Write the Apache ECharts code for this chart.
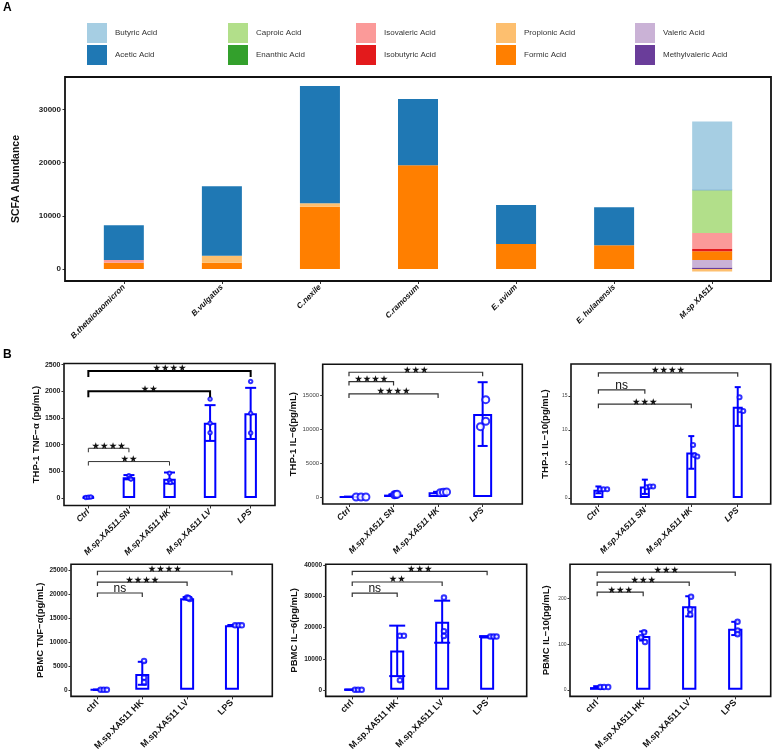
<!DOCTYPE html>
<html>
<head>
<meta charset="utf-8">
<title>SCFA abundance and cytokines</title>
<script src="https://cdn.jsdelivr.net/npm/echarts@6/dist/echarts.min.js"></script>
<style>
  html, body { margin: 0; padding: 0; background: #fff; }
  #chart { width: 772px; height: 753px; }
</style>
</head>
<body>
<div id="chart"></div>
<script>
// ---------- panel A : SCFA abundance per strain ----------
const strains = ['B.thetaiotaomicron', 'B.vulgatus', 'C.nexile', 'C.ramosum', 'E. avium', 'E. hulanensis', 'M.sp XA511'];
const methylvaleric = [0, 0, 0, 0, 0, 0, 300];
const valeric       = [0, 0, 0, 0, 0, 0, 1390];
const formic        = [1180, 1180, 11710, 19490, 4700, 4450, 1630];
const propionic     = [0, 1320, 640, 0, 0, 0, -450];
const isobutyric    = [0, 0, 0, 0, 0, 0, 440];
const isovaleric    = [510, 0, 0, 0, 0, 0, 3000];
const enanthic      = [0, 0, 0, 0, 0, 0, 0];
const caproic       = [0, 0, 0, 0, 0, 0, 8020];
const acetic        = [6520, 13050, 22050, 12460, 7330, 7150, 150];
const butyric       = [0, 0, 0, 0, 0, 0, 12780];
const scfaTicks = [0, 10000, 20000, 30000];

// ---------- panel B : cytokines (mean, error range, replicates, tests) ----------
const catsB1 = ['Ctrl', 'M.sp.XA511.SN', 'M.sp.XA511 HK', 'M.sp.XA511 LV', 'LPS'];
const meanB1 = [15, 390, 360, 1410, 1590];
const errB1  = [[5, 25], [350, 430], [270, 478], [1070, 1740], [1106, 2064]];
const ptsB1  = [[10, 15, 20], [416, 373, 354], [466, 328, 291], [1853, 1400, 1224], [2183, 1586, 1218]];
const sigB1  = [[0, 4, 2381, '★★★★'], [0, 3, 2002, '★★'], [0, 1, 932, '★★★★'], [0, 2, 683, '★★']];
const ticksB1 = [0, 500, 1000, 1500, 2000, 2500];

const catsB2 = ['Ctrl', 'M.sp.XA511 SN', 'M.sp.XA511 HK', 'LPS'];
const meanB2 = [30, 350, 690, 12200];
const errB2  = [[0, 60], [300, 400], [620, 760], [7500, 16870]];
const ptsB2  = [[0, 0, 0], [330, 360, 400], [620, 700, 750], [14300, 11130, 10340]];
const sigB2  = [[0, 3, 18330, '★★★'], [0, 1, 16960, '★★★★'], [0, 2, 15150, '★★★★']];
const ticksB2 = [0, 5000, 10000, 15000];

const catsB3 = ['Ctrl', 'M.sp.XA511 SN', 'M.sp.XA511 HK', 'LPS'];
const meanB3 = [1.2, 1.7, 6.7, 13.4];
const errB3  = [[0.7, 1.7], [0.6, 2.7], [4.3, 9.1], [10.6, 16.3]];
const ptsB3  = [[1.3, 1.3, 1.3], [1.6, 1.7, 1.7], [7.8, 6.3, 6.1], [14.8, 12.9, 12.8]];
const sigB3  = [[0, 3, 18.4, '★★★★'], [0, 1, 15.9, 'ns'], [0, 2, 13.8, '★★★']];
const ticksB3 = [0, 5, 10, 15];

const catsB4 = ['ctrl', 'M.sp.XA511 HK', 'M.sp.XA511 LV', 'LPS'];
const meanB4 = [20, 3320, 19140, 13480];
const errB4  = [[0, 40], [1050, 5860], [18900, 19400], [13400, 13560]];
const ptsB4  = [[0, 0, 0], [6050, 2540, 1600], [19300, 19000, 19200], [13480, 13480, 13480]];
const sigB4  = [[0, 3, 24800, '★★★★'], [0, 2, 22530, '★★★★'], [0, 1, 20250, 'ns']];
const ticksB4 = [0, 5000, 10000, 15000, 20000, 25000];

const catsB5 = ['ctrl', 'M.sp.XA511 HK', 'M.sp.XA511 LV', 'LPS'];
const meanB5 = [50, 12630, 21950, 17140];
const errB5  = [[0, 100], [4420, 20660], [15160, 28690], [17000, 17300]];
const ptsB5  = [[0, 0, 0], [17400, 17400, 3100], [29700, 18860, 17350], [17140, 17140, 17140]];
const sigB5  = [[0, 3, 38150, '★★★'], [0, 2, 34700, '★★'], [0, 1, 31150, 'ns']];
const ticksB5 = [0, 10000, 20000, 30000, 40000];

const catsB6 = ['ctrl', 'M.sp.XA511 HK', 'M.sp.XA511 LV', 'LPS'];
const meanB6 = [6, 118, 183, 134];
const errB6  = [[4, 8], [108, 128], [161, 205], [120, 149]];
const ptsB6  = [[6, 6, 6], [126, 115, 105], [204, 176, 165], [149, 130, 122]];
const sigB6  = [[0, 3, 258, '★★★'], [0, 2, 236, '★★★'], [0, 1, 214, '★★★']];
const ticksB6 = [0, 100, 200];

// horizontal jitter of the replicate dots (fraction of a category)
const jitB1 = [[-0.06, 0, 0.06], [0, 0.03, 0.05], [0, 0, 0.02], [0, 0, 0], [0, 0, 0]];
const jitB2 = [[0.16, 0.27, 0.38], [0.02, 0.05, 0.08], [0.05, 0.12, 0.19], [0.07, 0.07, -0.05]];
const jitB3 = [[0.03, 0.11, 0.19], [0.04, 0.11, 0.18], [0.04, 0.07, 0.13], [0.04, 0.05, 0.12]];
const jitB4 = [[0.07, 0.14, 0.21], [0.04, 0.04, 0.04], [0, 0.06, 0.03], [0.07, 0.15, 0.22]];
const jitB5 = [[0.06, 0.13, 0.21], [0.06, 0.15, 0.06], [0.04, 0.04, 0.04], [0.07, 0.14, 0.21]];
const jitB6 = [[0.07, 0.15, 0.24], [0.02, -0.05, 0.04], [0.04, 0.02, 0.02], [0.05, 0.05, 0.05]];

const FONT = '"Liberation Sans", Arial, sans-serif';
const BLUE = '#0000ff';
const acidColors = {
  'Butyric Acid': '#a6cee3', 'Acetic Acid': '#1f78b4', 'Caproic Acid': '#b2df8a', 'Enanthic Acid': '#33a02c',
  'Isovaleric Acid': '#fb9a99', 'Isobutyric Acid': '#e31a1c', 'Propionic Acid': '#fdbf6f', 'Formic Acid': '#ff7f00',
  'Valeric Acid': '#cab2d6', 'Methylvaleric Acid': '#6a3d9a'
};
// stacking order, bottom first
const acidStack = [
  ['Methylvaleric Acid', methylvaleric], ['Valeric Acid', valeric], ['Formic Acid', formic],
  ['Propionic Acid', propionic], ['Isobutyric Acid', isobutyric], ['Isovaleric Acid', isovaleric],
  ['Enanthic Acid', enanthic], ['Caproic Acid', caproic], ['Acetic Acid', acetic], ['Butyric Acid', butyric]
];
const legendCols = [
  ['Butyric Acid', 'Acetic Acid'], ['Caproic Acid', 'Enanthic Acid'], ['Isovaleric Acid', 'Isobutyric Acid'],
  ['Propionic Acid', 'Formic Acid'], ['Valeric Acid', 'Methylvaleric Acid']
];
const legendX = [82, 223, 351, 491, 630];

const grids = [], xAxes = [], yAxes = [], series = [];

function addGrid(box, bw) {
  grids.push({
    left: box[0], top: box[1], width: box[2], height: box[3],
    show: bw > 0, borderColor: '#111', borderWidth: bw, backgroundColor: 'rgba(0,0,0,0)'
  });
  return grids.length - 1;
}

function labelStyle(font) {
  return { rotate: 45, margin: 5, fontFamily: FONT, fontSize: font.size, fontWeight: 'bold',
    fontStyle: font.style, color: '#111' };
}

function addXAxis(gi, range, cats, font) {
  const idx = cats.map((_, i) => i);
  xAxes.push({
    gridIndex: gi, type: 'value', min: range[0], max: range[1],
    axisLine: { show: false, onZero: false }, splitLine: { show: false },
    axisTick: { show: true, customValues: idx, length: 3, lineStyle: { color: '#333', width: 1 } },
    axisLabel: Object.assign({ customValues: idx, formatter: v => cats[Math.round(v)] }, labelStyle(font))
  });
}

function addYAxis(gi, range, ticks, name, o) {
  yAxes.push({
    gridIndex: gi, type: 'value', min: range[0], max: range[1], offset: o.offset || 0,
    name: name, nameLocation: 'middle', nameGap: o.nameGap,
    nameTextStyle: { fontFamily: FONT, fontSize: o.nameSize, fontWeight: 'bold', color: '#111' },
    axisLine: { show: false, onZero: false }, splitLine: { show: false },
    axisTick: { show: true, customValues: ticks, length: 2.5, lineStyle: { color: '#333', width: 1 } },
    axisLabel: {
      customValues: ticks, margin: o.labMargin || 4, formatter: v => String(v),
      fontFamily: FONT, fontSize: o.tickSize, fontWeight: o.tickWeight || 'bold', color: o.tickColor || '#222'
    }
  });
}

// ---------- panel A ----------
// frame 65..771 px; ggplot pads 0.6 of a band on each side, echarts pads 0.5
const frameA = [65, 77, 706, 204];
const bandA = frameA[2] / (strains.length + 0.2);
const gA = addGrid([frameA[0] + 0.1 * bandA, frameA[1], bandA * strains.length, frameA[3]], 0);
xAxes.push({
  gridIndex: gA, type: 'category', data: strains, boundaryGap: true,
  axisLine: { show: false, onZero: false },
  axisTick: { show: true, alignWithLabel: true, length: 3, lineStyle: { color: '#333', width: 1 } },
  axisLabel: Object.assign({ interval: 0 }, labelStyle({ size: 8, style: 'italic' }))
});
addYAxis(gA, [-2256, 36090], scfaTicks, 'SCFA Abundance',
  { nameGap: 43, nameSize: 10.5, tickSize: 8, labMargin: 4, offset: 0.1 * bandA });
acidStack.forEach(([name, vals]) => {
  series.push({
    name: name, type: 'bar', stack: 'acid', xAxisIndex: gA, yAxisIndex: gA,
    barWidth: 40, itemStyle: { color: acidColors[name] },
    data: vals
  });
});

// ---------- panel B ----------
const panelsB = [
  { box: [64, 363.5, 211, 142], x: [-0.6, 4.6], y: [-140, 2520], ticks: ticksB1, cats: catsB1, mean: meanB1, err: errB1,
    pts: ptsB1, jit: jitB1, sig: sigB1, yName: 'THP-1 TNF−α (pg/mL)', nameGap: 22, tickSize: 7,
    xFont: { size: 8.5, style: 'italic' }, barW: 12.5, cap: 5.5, sym: 3.5, sigW: [2, 2, 1, 1], drop: [6, 6, 4, 4] },
  { box: [322.7, 364.3, 199.6, 139.7], x: [-0.59, 3.89], y: [-1030, 19500], ticks: ticksB2, cats: catsB2, mean: meanB2, err: errB2,
    pts: ptsB2, jit: jitB2, sig: sigB2, yName: 'THP-1 IL−6(pg/mL)', nameGap: 23, tickSize: 6, tickWeight: 'normal', tickColor: '#444',
    xFont: { size: 8.5, style: 'italic' }, barW: 19, cap: 5, sym: 7, sigW: [1.2, 1.2, 1.2], drop: [4, 4, 4] },
  { box: [571, 364, 199.7, 140], x: [-0.59, 3.71], y: [-0.88, 19.7], ticks: ticksB3, cats: catsB3, mean: meanB3, err: errB3,
    pts: ptsB3, jit: jitB3, sig: sigB3, yName: 'THP-1 IL−10(pg/mL)', nameGap: 21, tickSize: 5, tickWeight: 'normal', tickColor: '#444',
    xFont: { size: 8.5, style: 'italic' }, barW: 10, cap: 3, sym: 4, sigW: [1.2, 1.2, 1.2], drop: [4, 4, 4] },
  { box: [71, 564.3, 201.3, 141.4], x: [-0.59, 3.9], y: [-1370, 26250], ticks: ticksB4, cats: catsB4, mean: meanB4, err: errB4,
    pts: ptsB4, jit: jitB4, sig: sigB4, yName: 'PBMC TNF−α(pg/mL)', nameGap: 26, tickSize: 6.5,
    xFont: { size: 9, style: 'normal' }, barW: 14, cap: 4.5, sym: 4.5, sigW: [1.2, 1.2, 1.2], drop: [4, 4, 4] },
  { box: [325.7, 564.3, 201, 141.4], x: [-0.59, 3.88], y: [-2100, 40400], ticks: ticksB5, cats: catsB5, mean: meanB5, err: errB5,
    pts: ptsB5, jit: jitB5, sig: sigB5, yName: 'PBMC IL−6(pg/mL)', nameGap: 26.5, tickSize: 6.5,
    xFont: { size: 9, style: 'normal' }, barW: 14, cap: 8, sym: 4.5, sigW: [1.2, 1.2, 1.2], drop: [4, 4, 4] },
  { box: [570, 564.3, 200.7, 141.4], x: [-0.59, 3.77], y: [-14.3, 275], ticks: ticksB6, cats: catsB6, mean: meanB6, err: errB6,
    pts: ptsB6, jit: jitB6, sig: sigB6, yName: 'PBMC IL−10(pg/mL)', nameGap: 19, tickSize: 5, tickWeight: 'normal', tickColor: '#444',
    xFont: { size: 9, style: 'normal' }, barW: 14.3, cap: 4, sym: 4.5, sigW: [1.2, 1.2, 1.2], drop: [4, 4, 4] }
];

panelsB.forEach(p => {
  const gi = addGrid(p.box, 1.6);
  addXAxis(gi, p.x, p.cats, p.xFont);
  addYAxis(gi, p.y, p.ticks, p.yName, { nameGap: p.nameGap, nameSize: 9.5, tickSize: p.tickSize,
    tickWeight: p.tickWeight, tickColor: p.tickColor, labMargin: 3.5 });

  // open bars
  series.push({
    type: 'bar', xAxisIndex: gi, yAxisIndex: gi, barWidth: p.barW, z: 2,
    itemStyle: { color: 'rgba(255,255,255,0)', borderColor: BLUE, borderWidth: 2 },
    data: p.mean.map((m, i) => [i, m])
  });

  // error bars
  series.push({
    type: 'custom', xAxisIndex: gi, yAxisIndex: gi, z: 3, clip: false,
    encode: { x: 0, y: [1, 2] },
    data: p.err.map((e, i) => [i, e[0], e[1]]),
    renderItem: (params, api) => {
      const x = api.value(0);
      const lo = api.coord([x, api.value(1)]);
      const hi = api.coord([x, api.value(2)]);
      const st = { stroke: BLUE, lineWidth: 2 };
      return { type: 'group', children: [
        { type: 'line', shape: { x1: lo[0], y1: lo[1], x2: hi[0], y2: hi[1] }, style: st },
        { type: 'line', shape: { x1: hi[0] - p.cap, y1: hi[1], x2: hi[0] + p.cap, y2: hi[1] }, style: st },
        { type: 'line', shape: { x1: lo[0] - p.cap, y1: lo[1], x2: lo[0] + p.cap, y2: lo[1] }, style: st }
      ] };
    }
  });

  // replicate dots
  const dots = [];
  p.pts.forEach((grp, i) => grp.forEach((v, k) => dots.push([i + p.jit[i][k], v])));
  series.push({
    type: 'scatter', xAxisIndex: gi, yAxisIndex: gi, z: 4,
    symbol: 'emptyCircle', symbolSize: p.sym,
    itemStyle: { color: BLUE, borderColor: BLUE, borderWidth: 1.5 },
    data: dots
  });

  // significance brackets
  series.push({
    type: 'custom', xAxisIndex: gi, yAxisIndex: gi, z: 5, clip: false,
    encode: { x: [0, 1], y: 2 },
    data: p.sig.map(s => [s[0], s[1], s[2]]),
    renderItem: (params, api) => {
      const k = params.dataIndex;
      const a = api.coord([api.value(0), api.value(2)]);
      const b = api.coord([api.value(1), api.value(2)]);
      const txt = p.sig[k][3];
      const isNs = txt === 'ns';
      const d = p.drop[k];
      return { type: 'group', children: [
        { type: 'polyline', shape: { points: [[a[0], a[1] + d], [a[0], a[1]], [b[0], b[1]], [b[0], b[1] + d]] },
          style: { stroke: p.sigW[k] > 1.5 ? '#000' : '#333', lineWidth: p.sigW[k], fill: null } },
        { type: 'text', x: (a[0] + b[0]) / 2, y: a[1] + (isNs ? 2 : 3),
          style: { text: txt, align: 'center', verticalAlign: 'bottom', fill: '#111',
            font: isNs ? '12px "Liberation Sans", Arial, sans-serif' : '9.5px "DejaVu Sans", sans-serif' } }
      ] };
    }
  });
});

const legends = legendCols.map((col, c) => ({
  left: legendX[c], top: 18, orient: 'vertical', icon: 'rect',
  itemWidth: 20, itemHeight: 20, itemGap: 2, selectedMode: false,
  data: col,
  textStyle: { fontFamily: FONT, fontSize: 8, color: '#333', padding: [0, 0, 0, 3] }
}));

const chart = echarts.init(document.getElementById('chart'), null, { renderer: 'canvas' });
chart.setOption({
  animation: false,
  backgroundColor: '#fff',
  legend: legends,
  grid: grids,
  xAxis: xAxes,
  yAxis: yAxes,
  series: series,
  graphic: [
    { type: 'rect', z: 10, silent: true,
      shape: { x: frameA[0], y: frameA[1], width: frameA[2], height: frameA[3] },
      style: { fill: null, stroke: '#111', lineWidth: 1.8 } },
    { type: 'text', left: 3, top: 2, style: { text: 'A', font: 'bold 12px "Liberation Sans", Arial', fill: '#000' } },
    { type: 'text', left: 3, top: 349, style: { text: 'B', font: 'bold 12px "Liberation Sans", Arial', fill: '#000' } }
  ]
});
</script>
</body>
</html>
